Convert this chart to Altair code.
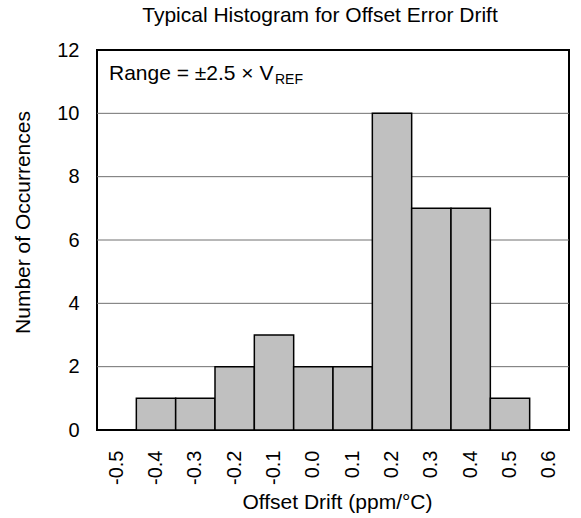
import altair as alt
import pandas as pd

drift = ["-0.5", "-0.4", "-0.3", "-0.2", "-0.1", "0.0", "0.1", "0.2", "0.3", "0.4", "0.5", "0.6"]
counts = [0, 1, 1, 2, 3, 2, 2, 10, 7, 7, 1, 0]
y_ticks = [0, 2, 4, 6, 8, 10, 12]
grid_vals = [2, 4, 6, 8, 10]

FONT = "Liberation Sans"

df = pd.DataFrame({"drift": drift, "count": counts})
grid_df = pd.DataFrame({"g": grid_vals})

y_scale = alt.Scale(domain=[0, 12], nice=False, zero=True)

y_axis = alt.Axis(
    title="Number of Occurrences",
    values=y_ticks,
    labelPadding=18,
    labelFontSize=20,
    labelFont=FONT,
    labelColor="black",
    titleFont=FONT,
    titleFontSize=21,
    titleFontWeight="normal",
    titleColor="black",
    titleAngle=270,
    titleX=-74,
    titleY=172,
    titleAlign="center",
    titleBaseline="middle",
    ticks=False,
    domain=False,
    grid=False,
)

grid = alt.Chart(grid_df).mark_rule(color="#707070", strokeWidth=1).encode(
    y=alt.Y("g:Q", scale=y_scale, axis=y_axis)
)

bars = alt.Chart(df).mark_bar(
    fill="#c0c0c0", stroke="black", strokeWidth=1.5
).encode(
    x=alt.X(
        "drift:N",
        sort=drift,
        scale=alt.Scale(domain=drift, paddingInner=0, paddingOuter=0),
        axis=alt.Axis(
            title="Offset Drift (ppm/°C)",
            labelAngle=270,
            labelAlign="right",
            labelBaseline="middle",
            labelPadding=20,
            labelFontSize=20,
            labelFont=FONT,
            labelColor="black",
            titleFont=FONT,
            titleFontSize=21,
            titleFontWeight="normal",
            titleColor="black",
            titleX=240,
            titleY=78,
            titleAlign="center",
            titleBaseline="alphabetic",
            ticks=False,
            domain=False,
            grid=False,
        ),
    ),
    y=alt.Y("count:Q", scale=y_scale, axis=y_axis),
)

ann_main = alt.Chart(pd.DataFrame({"t": ["Range = ±2.5 × V"]})).mark_text(
    align="left", baseline="alphabetic", font=FONT, fontSize=21, color="black"
).encode(x=alt.value(12), y=alt.value(30), text="t:N")

ann_sub = alt.Chart(pd.DataFrame({"t": ["REF"]})).mark_text(
    align="left", baseline="alphabetic", font=FONT, fontSize=14, color="black"
).encode(x=alt.value(178), y=alt.value(34), text="t:N")

chart = alt.layer(grid, bars, ann_main, ann_sub).properties(
    width=472,
    height=380,
    background="white",
    autosize=alt.AutoSizeParams(type="none"),
    padding={"left": 97, "top": 50, "right": 12, "bottom": 88},
    title=alt.TitleParams(
        "Typical Histogram for Offset Error Drift",
        font=FONT,
        fontSize=21,
        fontWeight="normal",
        color="black",
        anchor="middle",
        dx=-13,
        offset=14,
    ),
).configure_view(
    stroke="black", strokeWidth=2
)

chart.save("out.html", embed_options={"renderer": "svg", "actions": False})
